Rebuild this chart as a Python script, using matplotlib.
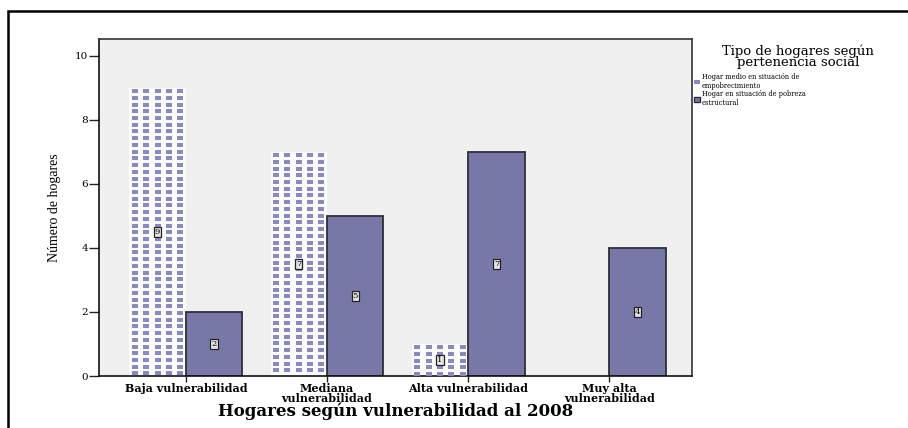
import numpy as np
import matplotlib
matplotlib.use("Agg")
import matplotlib.pyplot as plt
from matplotlib.patches import Rectangle, Patch
from matplotlib.lines import Line2D

categories = ["Baja vulnerabilidad", "Mediana\nvulnerabilidad", "Alta vulnerabilidad", "Muy alta\nvulnerabilidad"]
series_names = ["Hogar medio en situación de\nempobrecimiento", "Hogar en situación de pobreza\nestructural"]
empobrecimiento = [9, 7, 1, 0]
pobreza_estructural = [2, 5, 7, 4]
y_ticks = [0, 2, 4, 6, 8, 10]

W, H = 908, 428
fig = plt.figure(figsize=(W / 100, H / 100), dpi=100)
fig.patch.set_facecolor("white")
ax = fig.add_axes([99 / W, 1 - 376 / H, (692 - 99) / W, (376 - 39) / H])
ax.set_facecolor("#f0f0f0")

x = np.arange(len(categories))
bw = 0.40
dash_col = "#8a8ac2"
solid_col = "#7878a8"
serif = "DejaVu Serif"

# patterned bars (white background with purple dashes)
b1 = ax.bar(x - bw / 2, empobrecimiento, width=bw, color="#fbfbfb", edgecolor="none", zorder=2)
dash_marker = [(-1, -0.5), (1, -0.5), (1, 0.5), (-1, 0.5)]
for rect in b1:
    h = rect.get_height()
    if h <= 0:
        continue
    x0, w = rect.get_x(), rect.get_width()
    cols = x0 + (np.arange(5) + 0.5) * w / 5
    rows = np.arange(h - 0.1, 0.0, -0.21)
    xx, yy = np.meshgrid(cols, rows)
    ax.plot(xx.ravel(), yy.ravel(), linestyle="none", marker=dash_marker,
            markersize=4.4, markeredgewidth=0, color=dash_col, zorder=3)

b2 = ax.bar(x + bw / 2, pobreza_estructural, width=bw, color=solid_col,
            edgecolor="#2e2e3a", linewidth=1.3, zorder=2)

box = dict(boxstyle="square,pad=0.12", fc="#e6e6e6", ec="#222222", lw=0.9)
for rect, v in zip(b1, empobrecimiento):
    if v > 0:
        ax.text(rect.get_x() + rect.get_width() / 2, v / 2, str(v), ha="center", va="center",
                fontsize=6, family=serif, bbox=box, zorder=5)
for rect, v in zip(b2, pobreza_estructural):
    if v > 0:
        ax.text(rect.get_x() + rect.get_width() / 2, v / 2, str(v), ha="center", va="center",
                fontsize=6, family=serif, bbox=box, zorder=5)

ax.set_xlim(-0.615, 3.585)
ax.set_ylim(0, 10.53)
ax.set_yticks(y_ticks)
ax.set_yticklabels([str(t) for t in y_ticks], family=serif, fontsize=7.5)
ax.set_xticks(x)
ax.set_xticklabels(categories, family=serif, fontsize=8, fontweight="bold", linespacing=0.9)
ax.tick_params(axis="y", length=7, width=1, pad=1, color="#222222")
ax.tick_params(axis="x", length=4, width=1, pad=1.2, color="#222222")
for s in ax.spines.values():
    s.set_linewidth(1.2)
    s.set_color("#333333")
ax.spines["left"].set_color("#111111")
ax.spines["bottom"].set_color("#111111")

ax.set_ylabel("Número de hogares", family="Liberation Serif", fontsize=10, labelpad=10)
ax.set_xlabel("Hogares según vulnerabilidad al 2008", family=serif, fontsize=12,
              fontweight="bold", labelpad=-1)

# legend
fig.text(798 / W, 1 - 57 / H, "Tipo de hogares según\npertenencia social", ha="center", va="center",
         family=serif, fontsize=9.5, linespacing=0.8, multialignment="center")
h1 = Line2D([], [], linestyle="none", marker=dash_marker, markersize=4.4,
            markeredgewidth=0, color=dash_col)
h2 = Patch(facecolor=solid_col, edgecolor="#2e2e3a", linewidth=1)
leg = fig.legend([h1, h2], series_names, loc="upper left",
                 bbox_to_anchor=(689 / W, 1 - 68 / H), frameon=False,
                 prop={"family": serif, "size": 4.8}, handlelength=0.9, handleheight=1.0,
                 handletextpad=0.3, labelspacing=0.05, borderpad=0.2)

# outer frame
fig.patches.append(Rectangle((8 / W, -0.05), 1.2, 1 - 11 / H + 0.05, transform=fig.transFigure,
                             fill=False, edgecolor="black", linewidth=1.8, zorder=10))

fig.savefig("out.png", dpi=100)
